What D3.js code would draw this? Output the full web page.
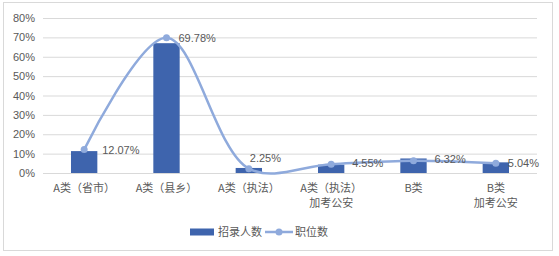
<!DOCTYPE html>
<html>
<head>
<meta charset="utf-8">
<script src="https://cdn.jsdelivr.net/npm/d3@7/dist/d3.min.js"></script>
<style>
  body { margin: 0; background: #fff; }
  text { font-family: "Liberation Sans", "Noto Sans CJK SC", sans-serif; fill: #595959; }
  .cjk { font-family: "Noto Sans CJK SC", sans-serif; }
</style>
</head>
<body>
<div id="chart"></div>
<script>
// chart data
var categories = ["A类（省市）", "A类（县乡）", "A类（执法）", "A类（执法）\n加考公安", "B类", "B类\n加考公安"];
var hires = [11.3, 67.0, 2.6, 4.3, 7.5, 5.5];          // 招录人数
var posts = [12.07, 69.78, 2.25, 4.55, 6.32, 5.04];    // 职位数
var yTicks = [0, 10, 20, 30, 40, 50, 60, 70, 80];
var seriesNames = ["招录人数", "职位数"];

// label nudges
var labelOffset = [[18, 1], [12, 0], [1, -10], [21, -1], [21, -2], [12, 0]];

var svgWidth = 559;
var svgHeight = 256;
var margin = { top: 18, right: 22, bottom: 83, left: 43 };

var barColor = "#3E64AD";
var lineColor = "#8FAADC";

var svg = d3.select("#chart")
  .append("svg")
  .attr("width", svgWidth)
  .attr("height", svgHeight);

// outer frame
svg.append("rect")
  .attr("x", 3.5).attr("y", 2.5)
  .attr("width", 549).attr("height", 248)
  .attr("fill", "none")
  .attr("stroke", "#D9D9D9");

var x = d3.scaleBand()
  .domain(categories)
  .range([margin.left, svgWidth - margin.right])
  .padding(0);

var y = d3.scaleLinear()
  .domain([0, 80])
  .range([svgHeight - margin.bottom, margin.top]);

var barW = x.bandwidth() * 0.32;

// gridlines + y labels
var yAxis = d3.axisLeft(y)
  .tickValues(yTicks)
  .tickSize(-(svgWidth - margin.right - margin.left))
  .tickPadding(8)
  .tickFormat(d => d + "%");

var yg = svg.append("g")
  .attr("transform", `translate(${margin.left},0)`)
  .call(yAxis);
yg.select(".domain").remove();
yg.selectAll("line").attr("stroke", "#D9D9D9");
yg.selectAll("text")
  .attr("font-size", "11px")
  .attr("fill", "#595959");

// x labels
var xg = svg.append("g");
xg.selectAll("text")
  .data(categories)
  .enter()
  .append("text")
  .attr("class", "cjk")
  .attr("text-anchor", "middle")
  .attr("font-size", "11px")
  .attr("x", d => x(d) + x.bandwidth() / 2)
  .attr("y", y(0) + 19)
  .each(function(d) {
    var lines = d.split("\n");
    var t = d3.select(this);
    lines.forEach(function(l, i) {
      t.append("tspan")
        .attr("x", x(d) + x.bandwidth() / 2)
        .attr("dy", i === 0 ? 0 : 15)
        .text(l);
    });
  });

// bars
svg.selectAll(".bar")
  .data(hires)
  .enter()
  .append("rect")
  .attr("class", "bar")
  .attr("x", (d, i) => x(categories[i]) + (x.bandwidth() - barW) / 2)
  .attr("y", d => y(d))
  .attr("width", barW)
  .attr("height", d => y(0) - y(d))
  .attr("fill", barColor);

// smooth line
var line = d3.line()
  .x((d, i) => x(categories[i]) + x.bandwidth() / 2)
  .y(d => y(d))
  .curve(d3.curveCatmullRom.alpha(0.5));

svg.append("path")
  .datum(posts)
  .attr("d", line)
  .attr("fill", "none")
  .attr("stroke", lineColor)
  .attr("stroke-width", 2.5);

svg.selectAll(".dot")
  .data(posts)
  .enter()
  .append("circle")
  .attr("class", "dot")
  .attr("cx", (d, i) => x(categories[i]) + x.bandwidth() / 2)
  .attr("cy", d => y(d))
  .attr("r", 3.5)
  .attr("fill", lineColor);

// data labels
svg.selectAll(".lbl")
  .data(posts)
  .enter()
  .append("text")
  .attr("class", "lbl")
  .attr("font-size", "11px")
  .attr("x", (d, i) => x(categories[i]) + x.bandwidth() / 2 + labelOffset[i][0])
  .attr("y", (d, i) => y(d) + labelOffset[i][1])
  .attr("dy", "0.35em")
  .text(d => d.toFixed(2) + "%");

// legend
var lg = svg.append("g");
lg.append("rect")
  .attr("x", 190).attr("y", 228.5)
  .attr("width", 24).attr("height", 7)
  .attr("fill", barColor);
lg.append("text")
  .attr("class", "cjk")
  .attr("font-size", "11px")
  .attr("x", 218).attr("y", 232)
  .attr("dy", "0.35em")
  .text(seriesNames[0]);
lg.append("line")
  .attr("x1", 265).attr("x2", 293)
  .attr("y1", 232).attr("y2", 232)
  .attr("stroke", lineColor)
  .attr("stroke-width", 2.5);
lg.append("circle")
  .attr("cx", 279).attr("cy", 232)
  .attr("r", 3.5)
  .attr("fill", lineColor);
lg.append("text")
  .attr("class", "cjk")
  .attr("font-size", "11px")
  .attr("x", 295).attr("y", 232)
  .attr("dy", "0.35em")
  .text(seriesNames[1]);
</script>
</body>
</html>
